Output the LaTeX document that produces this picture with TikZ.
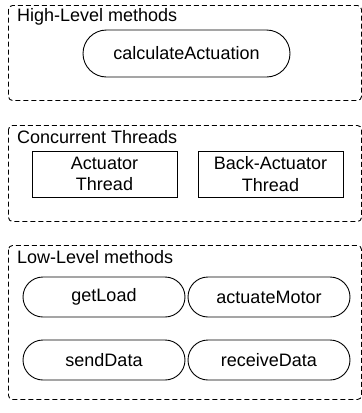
\documentclass[tikz,border=0pt]{standalone}
\usepackage{fontspec}
\setmainfont{Liberation Sans}
\usetikzlibrary{shapes.misc}
\begin{document}
\begin{tikzpicture}[x=1pt,y=-1pt,
  grp/.style={draw,line width=0.9pt,dash pattern=on 5pt off 3pt,rounded corners=4pt},
  grplabel/.style={anchor=west,inner sep=0pt,font=\fontsize{18}{21}\selectfont},
  pill/.style={draw,line width=0.9pt,rounded rectangle,inner sep=0pt,minimum width=162pt,minimum height=40pt,font=\fontsize{18}{21}\selectfont},
  thr/.style={draw,line width=0.9pt,rectangle,align=center,font=\fontsize{18}{21.5}\selectfont,inner sep=0pt,minimum width=145pt,minimum height=46pt}]
\useasboundingbox (0,0) rectangle (362,413);
% groups
\draw[grp] (8.5,5.5) rectangle (361.5,100.5);
\node[grplabel] (hl) at (17,17) {High-Level methods};
\draw[grp] (8.5,125.5) rectangle (361.5,221.5);
\node[grplabel] (ct) at (17,137) {Concurrent Threads};
\draw[grp] (8.5,245.5) rectangle (361.5,399.5);
\node[grplabel] (ll) at (17,257) {Low-Level methods};
% high level
\node[pill,minimum width=207pt,minimum height=47pt] (calc) at (186.5,53.5) {calculateActuation};
% threads
\node[thr] (at) at (104.5,174) {Actuator\\Thread};
\node[thr] (bt) at (270.5,174) {Back-Actuator\\Thread};
% low level
\node[pill] (gl) at (104,297) {getLoad};
\node[pill] (am) at (269,297) {actuateMotor};
\node[pill] (sd) at (104,360) {sendData};
\node[pill] (rd) at (269,360) {receiveData};
\end{tikzpicture}
\end{document}
